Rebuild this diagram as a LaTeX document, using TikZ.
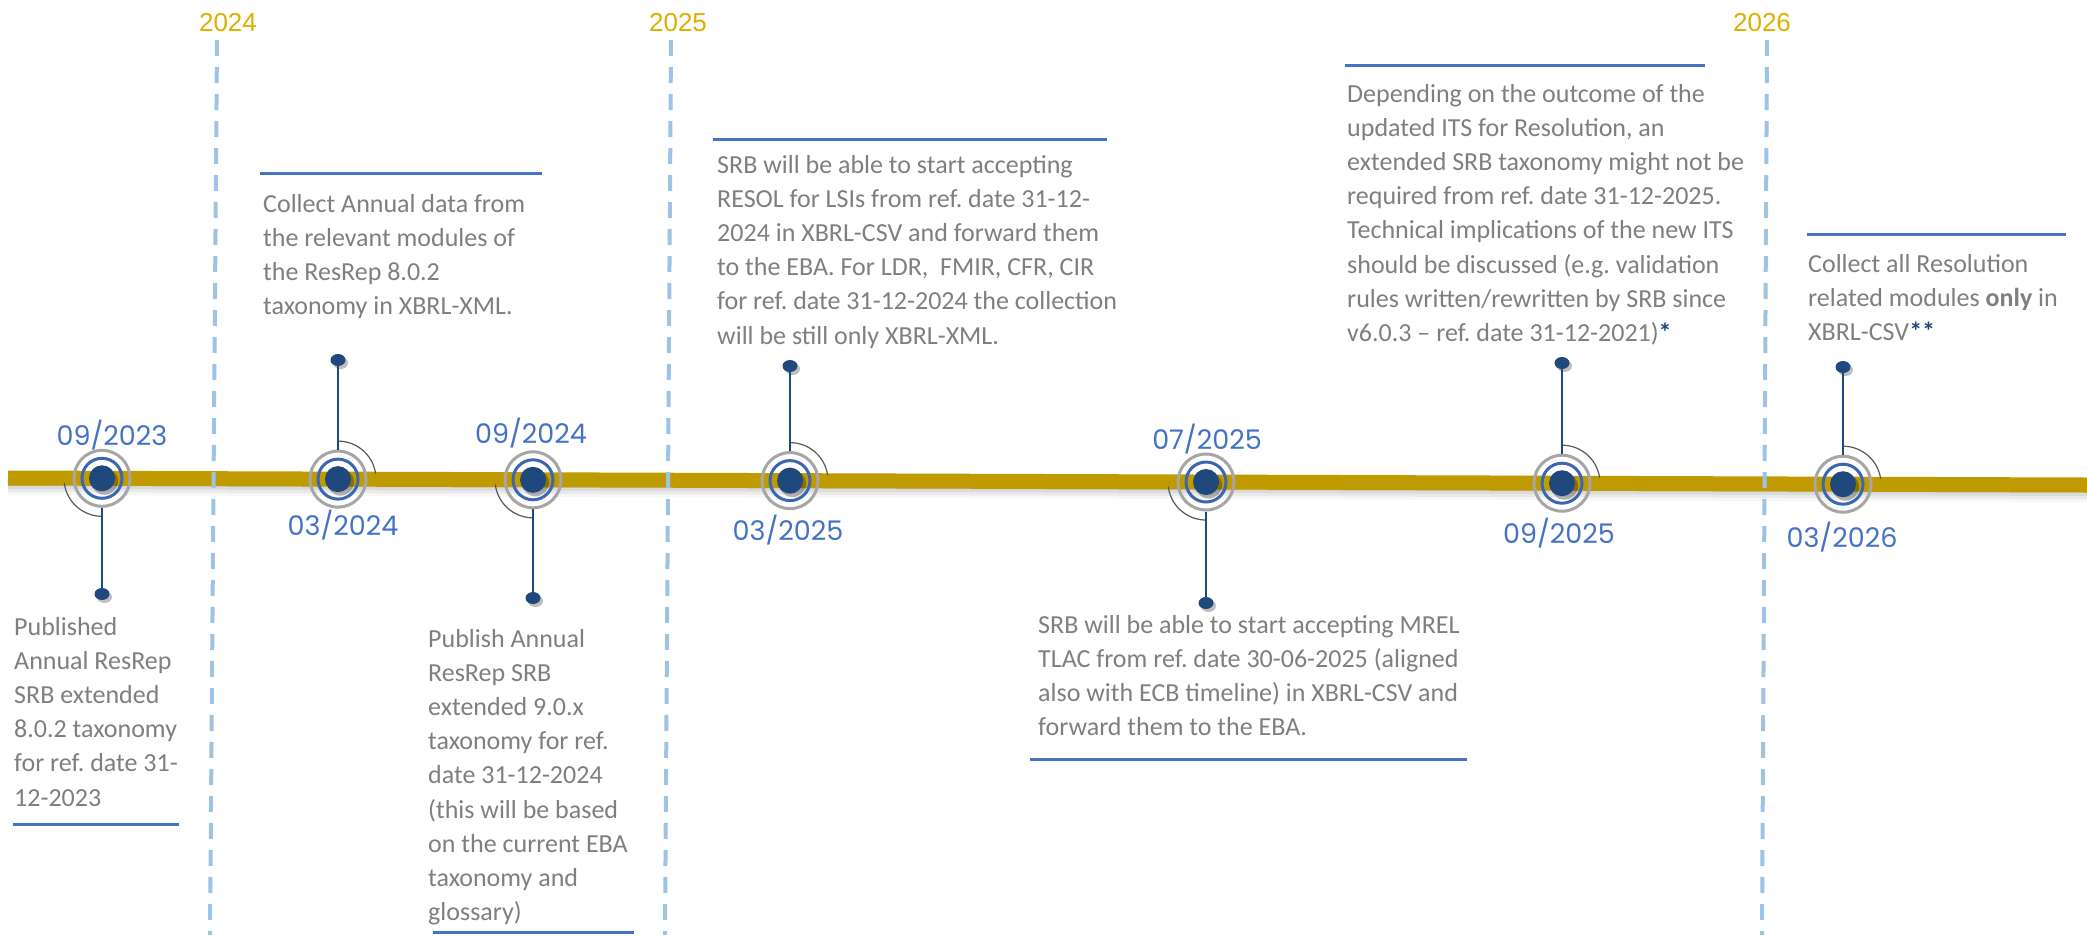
\documentclass[tikz,border=0pt]{standalone}
\usepackage{fontspec}
\setmainfont{Carlito}
\newfontfamily\datefont{Poppins}
\newfontfamily\yearfont{Liberation Sans}
\usetikzlibrary{shapes.geometric,shadows}
\frenchspacing
\definecolor{bargold}{HTML}{BF9B00}
\definecolor{notegray}{HTML}{7F7F7F}
\definecolor{darkblue}{HTML}{1F497D}
\definecolor{ringblue}{HTML}{3A67B0}
\definecolor{ringgray}{HTML}{A6A6A6}
\definecolor{dateblue}{HTML}{4472C4}
\definecolor{ruleblue}{HTML}{4472C4}
\definecolor{dashblue}{HTML}{9DC3E6}
\definecolor{yeargold}{HTML}{DDB000}
\definecolor{arcgray}{HTML}{595959}
\tikzset{
  note/.style={anchor=north west, inner sep=0pt, align=left, text=notegray,
    font=\fontsize{26}{34.2}\selectfont},
  milestone/.style={circle, draw=ringgray, line width=3pt, minimum size=56pt, inner sep=0pt},
  pindot/.style={ellipse, fill=darkblue, minimum width=15pt, minimum height=12pt, inner sep=0pt,
    drop shadow={shadow xshift=2.5pt, shadow yshift=-3pt, opacity=0.25, fill=black}},
  stemline/.style={darkblue, line width=2.5pt},
  datelbl/.style={anchor=base, text=dateblue, font=\datefont\fontsize{27}{30}\selectfont, inner sep=0pt},
  yearlbl/.style={anchor=base, text=yeargold, font=\yearfont\fontsize{26}{28}\selectfont, inner sep=0pt},
  yearline/.style={dashblue, line width=4pt, dash pattern=on 16pt off 11pt},
  textrule/.style={ruleblue, line width=3pt},
  swirl/.style={arcgray, line width=1.2pt},
}
\begin{document}
\begin{tikzpicture}[x=1pt,y=-1pt]
\useasboundingbox (0,0) rectangle (2087,935);
\fill[white] (0,0) rectangle (2087,935);

% timeline bar with soft shadow
\foreach \o/\op in {3/0.08,6/0.06,9/0.05,12/0.03}
  \draw[black, opacity=\op, line width=10pt] (8,{478+\o}) -- (2087,{485+\o});
\draw[bargold, line width=15pt] (8,478) -- (2087,485);

% year separators
\draw[yearline] (217,40) -- (210,935);
\draw[yearline] (671,40) -- (665,935);
\draw[yearline] (1767,40) -- (1762,935);
\node[yearlbl] (y24) at (228,31) {2024};
\node[yearlbl] (y25) at (678,31) {2025};
\node[yearlbl] (y26) at (1762,31) {2026};

% milestones
\foreach \n/\cx/\cy/\d in {m1/102/478.3/1, m2/338/479.1/0, m3/533/479.8/1, m4/790/480.6/0,
                         m5/1206/482.0/1, m6/1562/483.2/0, m7/1843/484.2/0} {
  \fill[black, opacity=0.28] ({\cx+2.5},{\cy+3}) circle (13.5);
  \node[milestone] (\n) at (\cx,\cy) {};
  \fill[darkblue] (\n) circle (13);
  \draw[ringblue, line width=3pt] (\n) circle (20);
  \ifnum\d=1
    \draw[swirl] plot[domain=90:173, samples=30] ({\cx+38*cos(\x)}, {\cy+38*sin(\x)});
  \else
    \draw[swirl] plot[domain=-90:-8, samples=30] ({\cx+38*cos(\x)}, {\cy+38*sin(\x)});
  \fi
}

% pins
\node[pindot] (p1) at (102,594) {};
\node[pindot] (p2) at (338,360) {};
\node[pindot] (p3) at (533,598) {};
\node[pindot] (p4) at (790,366) {};
\node[pindot] (p5) at (1206,603) {};
\node[pindot] (p6) at (1562,363) {};
\node[pindot] (p7) at (1843,367) {};
\draw[stemline] (m1) -- (p1);
\draw[stemline] (m2) -- (p2);
\draw[stemline] (m3) -- (p3);
\draw[stemline] (m4) -- (p4);
\draw[stemline] (m5) -- (p5);
\draw[stemline] (m6) -- (p6);
\draw[stemline] (m7) -- (p7);

% date labels
\node[datelbl] (l1) at (112,445) {09/2023};
\node[datelbl] (l2) at (343,535) {03/2024};
\node[datelbl] (l3) at (531,443) {09/2024};
\node[datelbl] (l4) at (788,540) {03/2025};
\node[datelbl] (l5) at (1207,449) {07/2025};
\node[datelbl] (l6) at (1559,543) {09/2025};
\node[datelbl] (l7) at (1842,547) {03/2026};

% notes
\node[note] (t1) at (14,611) {\strut Published\\Annual ResRep\\SRB extended\\8.0.2 taxonomy\\for ref. date 31-\\12-2023};
\node[note] (t2) at (263,188) {\strut Collect Annual data from\\the relevant modules of\\the ResRep 8.0.2\\taxonomy in XBRL-XML.};
\node[note] (t3) at (428,623) {\strut Publish Annual\\ResRep SRB\\extended 9.0.x\\taxonomy for ref.\\date 31-12-2024\\(this will be based\\on the current EBA\\taxonomy and\\glossary)};
\node[note] (t4) at (717,149) {\strut SRB will be able to start accepting\\RESOL for LSIs from ref. date 31-12-\\2024 in XBRL-CSV and forward them\\to the EBA. For LDR,\ \ FMIR, CFR, CIR\\for ref. date 31-12-2024 the collection\\will be still only XBRL-XML.};
\node[note] (t5) at (1038,609) {\strut SRB will be able to start accepting MREL\\TLAC from ref. date 30-06-2025 (aligned\\also with ECB timeline) in XBRL-CSV and\\forward them to the EBA.};
\node[note] (t6) at (1347,78) {\strut Depending on the outcome of the\\updated ITS for Resolution, an\\extended SRB taxonomy might not be\\required from ref. date 31-12-2025.\\Technical implications of the new ITS\\should be discussed (e.g. validation\\rules written/rewritten by SRB since\\v6.0.3 -- ref. date 31-12-2021){\color{darkblue}\bfseries *}};
\node[note] (t7) at (1808,248) {\strut Collect all Resolution\\related modules \textbf{only} in\\XBRL-CSV{\color{darkblue}\bfseries **}};

% rules above/below notes
\draw[textrule] (13,824) -- (179,824);
\draw[textrule] (260,173) -- (542,173);
\draw[textrule] (433,932) -- (634,932);
\draw[textrule] (713,139) -- (1107,139);
\draw[textrule] (1030,759) -- (1467,759);
\draw[textrule] (1345,65) -- (1705,65);
\draw[textrule] (1807,234) -- (2066,234);
\end{tikzpicture}
\end{document}
